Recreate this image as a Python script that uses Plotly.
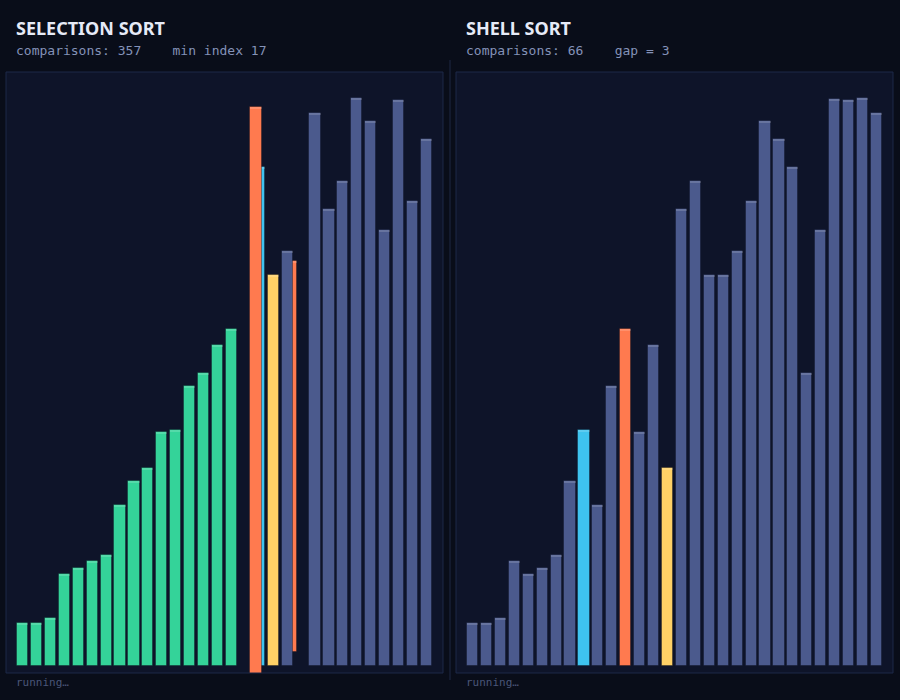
import plotly.graph_objects as go

# ---------------- data ----------------
sel_title = "SELECTION SORT"
sel_sub = "comparisons: 357    min index 17"
shell_title = "SHELL SORT"
shell_sub = "comparisons: 66    gap = 3"
footer = "running…"

# selection sort: static bars (None = slot empty while a swap is in flight)
sel_values = [43, 43, 48, 92, 98, 105, 111, 161, 185, 198, 234, 236, 280, 293, 321, 337,
              None, 499, 391, 415, None, 553, 457, 485, 568, 545, 436, 566, 465, 527]
sel_states = ["sorted"] * 16 + ["none", "compare", "min", "idle", "none"] + ["idle"] * 9

# bars in flight (swap between index 16 and 20)
move_values = [391, 567]
move_from = [20, 16]
move_to = [16, 20]
move_progress = [0.18, 0.19]
move_lift = [14, -8]
move_layer = ["back", "front"]

# shell sort
shell_values = [43, 43, 48, 105, 92, 98, 111, 185, 236, 161, 280, 337, 234, 321, 198,
                457, 485, 391, 391, 415, 465, 545, 527, 499, 293, 436, 567, 566, 568, 553]
shell_states = ["idle"] * 30
shell_states[8] = "compare"
shell_states[11] = "swap"
shell_states[14] = "min"

palette = {"sorted": "#34d399", "idle": "#4b5a8d", "compare": "#3ec3ef",
           "min": "#ffd166", "swap": "#ff7a4f", "none": "rgba(0,0,0,0)"}

PAGE_BG = "#090d19"
PANEL_BG = "#0e1429"
BORDER = "#1d2848"
N = 30
BAR_W = 0.8

fig = go.Figure()


def add_bars(xs, ys, bases, colors, xa, ya):
    fig.add_trace(go.Bar(x=xs, y=ys, base=bases, width=BAR_W, xaxis=xa, yaxis=ya,
                         marker=dict(color=colors, line=dict(width=1, color="rgba(8,12,26,0.35)")),
                         cliponaxis=False, hoverinfo="skip", showlegend=False))
    # top highlight strip
    fig.add_trace(go.Bar(x=xs, y=[2] * len(ys),
                         base=[b + v - 2 for b, v in zip(bases, ys)], width=BAR_W,
                         xaxis=xa, yaxis=ya,
                         marker=dict(color="rgba(255,255,255,0.16)", line=dict(width=0)),
                         cliponaxis=False, hoverinfo="skip", showlegend=False))


def moving(layer):
    xs, ys, bs, cs = [], [], [], []
    for v, f, t, p, l, lay in zip(move_values, move_from, move_to, move_progress, move_lift, move_layer):
        if lay == layer:
            xs.append(f + (t - f) * p)
            ys.append(v)
            bs.append(l)
            cs.append(palette["swap"])
    return xs, ys, bs, cs


# selection panel
xs, ys, bs, cs = moving("back")
add_bars(xs, ys, bs, cs, "x", "y")
idx = [i for i, v in enumerate(sel_values) if v is not None]
add_bars(idx, [sel_values[i] for i in idx], [0] * len(idx),
         [palette[sel_states[i]] for i in idx], "x", "y")
xs, ys, bs, cs = moving("front")
add_bars(xs, ys, bs, cs, "x", "y")

# shell panel
add_bars(list(range(N)), shell_values, [0] * N, [palette[s] for s in shell_states], "x2", "y2")

W, H = 900, 700
ydom = [27 / H, 628 / H]
xr = [-1.185, N - 1 + 1.185]
yr = [-7, 594]
axis_common = dict(showgrid=False, zeroline=False, showticklabels=False, ticks="",
                   fixedrange=True, showline=False)

fig.update_layout(
    width=W, height=H, margin=dict(l=0, r=0, t=0, b=0),
    paper_bgcolor=PAGE_BG, plot_bgcolor=PANEL_BG,
    barmode="overlay", bargap=0,
    xaxis=dict(domain=[6 / W, 443 / W], range=xr, anchor="y", **axis_common),
    yaxis=dict(domain=ydom, range=yr, anchor="x", **axis_common),
    xaxis2=dict(domain=[456 / W, 893 / W], range=xr, anchor="y2", **axis_common),
    yaxis2=dict(domain=ydom, range=yr, anchor="x2", **axis_common),
)

shapes = []
for xa in ["x", "x2"]:
    shapes.append(dict(type="rect", xref=f"{xa} domain", yref=f"{'y' if xa == 'x' else 'y2'} domain",
                       x0=0, x1=1, y0=0, y1=1, line=dict(color=BORDER, width=1),
                       fillcolor="rgba(0,0,0,0)", layer="above"))
shapes.append(dict(type="line", xref="paper", yref="paper", x0=450 / W, x1=450 / W,
                   y0=20 / H, y1=640 / H, line=dict(color="#131a2e", width=2)))
fig.update_layout(shapes=shapes)

ann = []
for x0, title, sub in [(14, sel_title, sel_sub), (464, shell_title, shell_sub)]:
    ann.append(dict(text=f"<b>{title}</b>", x=x0 / W, y=1 - 28 / H, xref="paper", yref="paper",
                    xanchor="left", yanchor="middle", showarrow=False,
                    font=dict(family="Noto Sans", size=18, color="#e6eaf7")))
    ann.append(dict(text=sub, x=x0 / W, y=1 - 51 / H, xref="paper", yref="paper",
                    xanchor="left", yanchor="middle", showarrow=False,
                    font=dict(family="DejaVu Sans Mono", size=13, color="#8492b8")))
    ann.append(dict(text=footer, x=x0 / W, y=1 - 682 / H, xref="paper", yref="paper",
                    xanchor="left", yanchor="middle", showarrow=False,
                    font=dict(family="DejaVu Sans Mono", size=11, color="#4a5678")))
fig.update_layout(annotations=ann)

fig.write_html("out.html")
